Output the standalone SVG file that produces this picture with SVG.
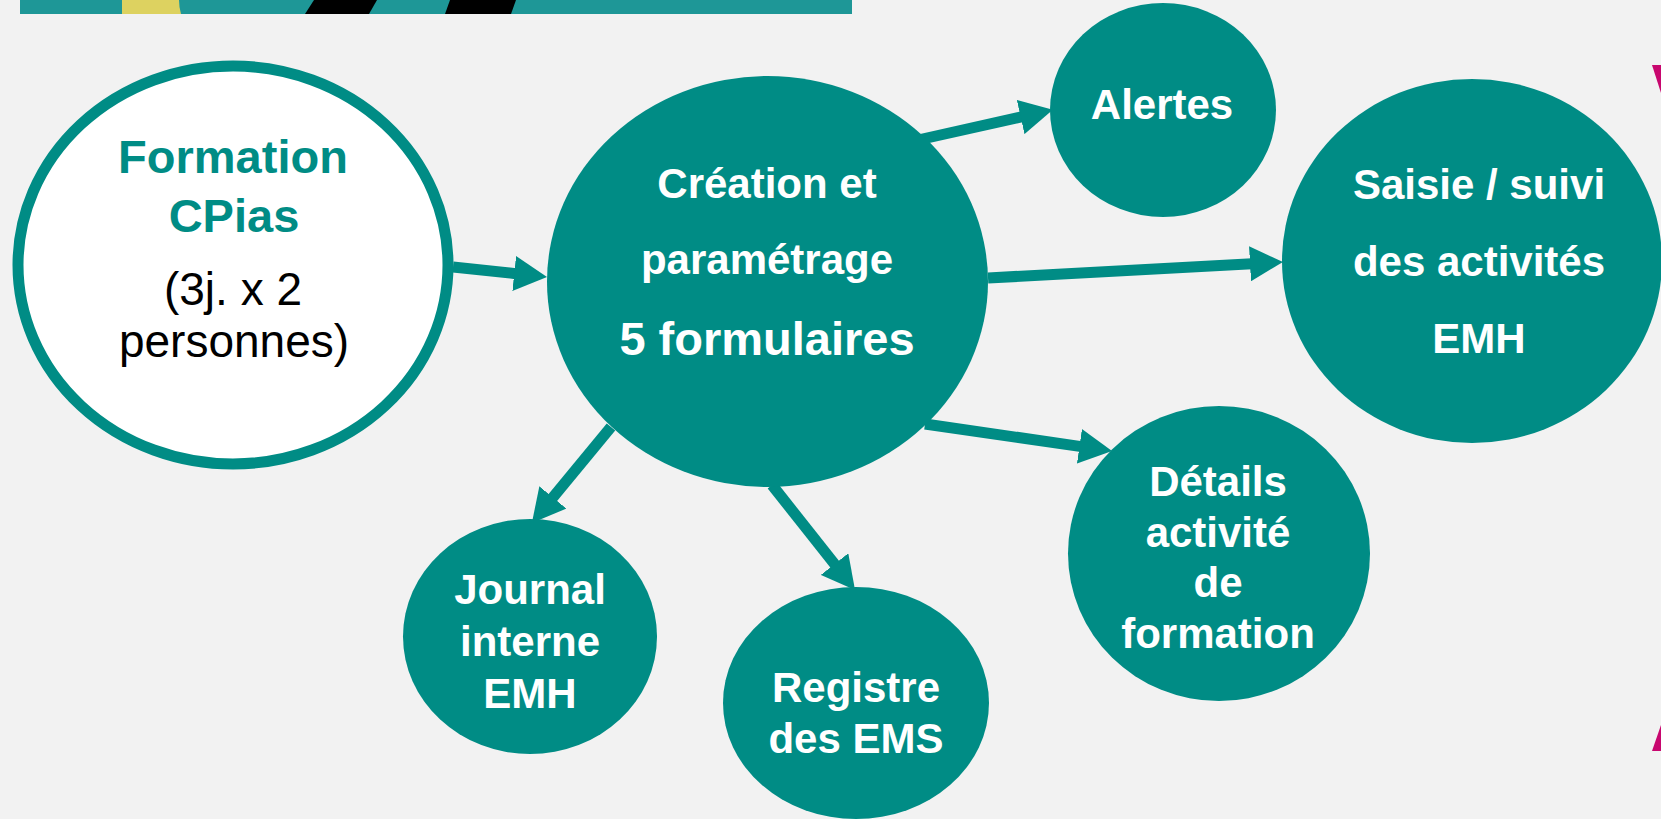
<svg xmlns="http://www.w3.org/2000/svg" width="1661" height="819" viewBox="0 0 1661 819">
<defs>
<marker id="ah" markerUnits="userSpaceOnUse" markerWidth="33" markerHeight="35" viewBox="0 0 33 35" refX="2" refY="17.5" orient="auto">
<path d="M0,0 L33,17.5 L0,35 z" fill="#008c85"/>
</marker>
<style>
.node{fill:#008c85}
.t{font-family:"Liberation Sans",Arial,sans-serif;font-weight:bold;font-size:42px;fill:#ffffff;text-anchor:middle}
.conn line{stroke:#008c85;stroke-width:11;marker-end:url(#ah)}
</style>
</defs>
<rect width="1661" height="819" fill="#f2f2f2"/>
<g id="banner">
<rect x="20" y="0" width="832" height="14" fill="#1e9797"/>
<path d="M122,0 L179,0 Q179,7 181,14 L122,14 z" fill="#ddd260"/>
<polygon points="314,0 377,0 369,14 305,14" fill="#000000"/>
<polygon points="450,0 516,0 511,14 445,14" fill="#000000"/>
</g>
<g id="deco">
<polygon points="1652,65 1662,65 1662,96" fill="#c8076f"/>
<polygon points="1652,751 1662,751 1662,722" fill="#c8076f"/>
</g>
<g class="conn" id="connectors">
<line x1="453" y1="267" x2="516.2" y2="273.7"/>
<line x1="918" y1="140" x2="1022.6" y2="116.6"/>
<line x1="988" y1="278" x2="1252" y2="263.7"/>
<line x1="611" y1="427" x2="551.6" y2="499"/>
<line x1="772" y1="485" x2="835.8" y2="565.7"/>
<line x1="925" y1="424" x2="1081.4" y2="446.6"/>
</g>
<g id="formation">
<ellipse cx="233" cy="265" rx="215" ry="199" fill="#ffffff" stroke="#008c85" stroke-width="11"/>
<text x="233" y="173" style="font-family:'Liberation Sans',Arial,sans-serif;font-weight:bold;font-size:47px;fill:#008c85;text-anchor:middle">Formation</text>
<text x="234" y="232" style="font-family:'Liberation Sans',Arial,sans-serif;font-weight:bold;font-size:47px;fill:#008c85;text-anchor:middle">CPias</text>
<text x="233" y="305" style="font-family:'Liberation Sans',Arial,sans-serif;font-size:46px;fill:#000000;text-anchor:middle">(3j. x 2</text>
<text x="234" y="357" style="font-family:'Liberation Sans',Arial,sans-serif;font-size:46px;fill:#000000;text-anchor:middle">personnes)</text>
</g>
<g id="creation">
<ellipse class="node" cx="767.5" cy="281.5" rx="220.5" ry="205.5"/>
<text class="t" x="767" y="198">Création et</text>
<text class="t" x="767" y="274">paramétrage</text>
<text class="t" x="767" y="355" style="font-size:47px">5 formulaires</text>
</g>
<g id="alertes">
<ellipse class="node" cx="1163" cy="110" rx="113" ry="107"/>
<text class="t" x="1162" y="119">Alertes</text>
</g>
<g id="saisie">
<ellipse class="node" cx="1472" cy="261" rx="190" ry="182"/>
<text class="t" x="1479" y="199">Saisie / suivi</text>
<text class="t" x="1479" y="276">des activités</text>
<text class="t" x="1479" y="353">EMH</text>
</g>
<g id="journal">
<ellipse class="node" cx="530" cy="636.5" rx="127" ry="117.5"/>
<text class="t" x="530" y="604">Journal</text>
<text class="t" x="530" y="656">interne</text>
<text class="t" x="530" y="708">EMH</text>
</g>
<g id="registre">
<ellipse class="node" cx="856" cy="703" rx="133" ry="116"/>
<text class="t" x="856" y="702">Registre</text>
<text class="t" x="856" y="753">des EMS</text>
</g>
<g id="details">
<ellipse class="node" cx="1219" cy="553.5" rx="151" ry="147.5"/>
<text class="t" x="1218" y="496">Détails</text>
<text class="t" x="1218" y="547">activité</text>
<text class="t" x="1218" y="597">de</text>
<text class="t" x="1218" y="648">formation</text>
</g>
</svg>
